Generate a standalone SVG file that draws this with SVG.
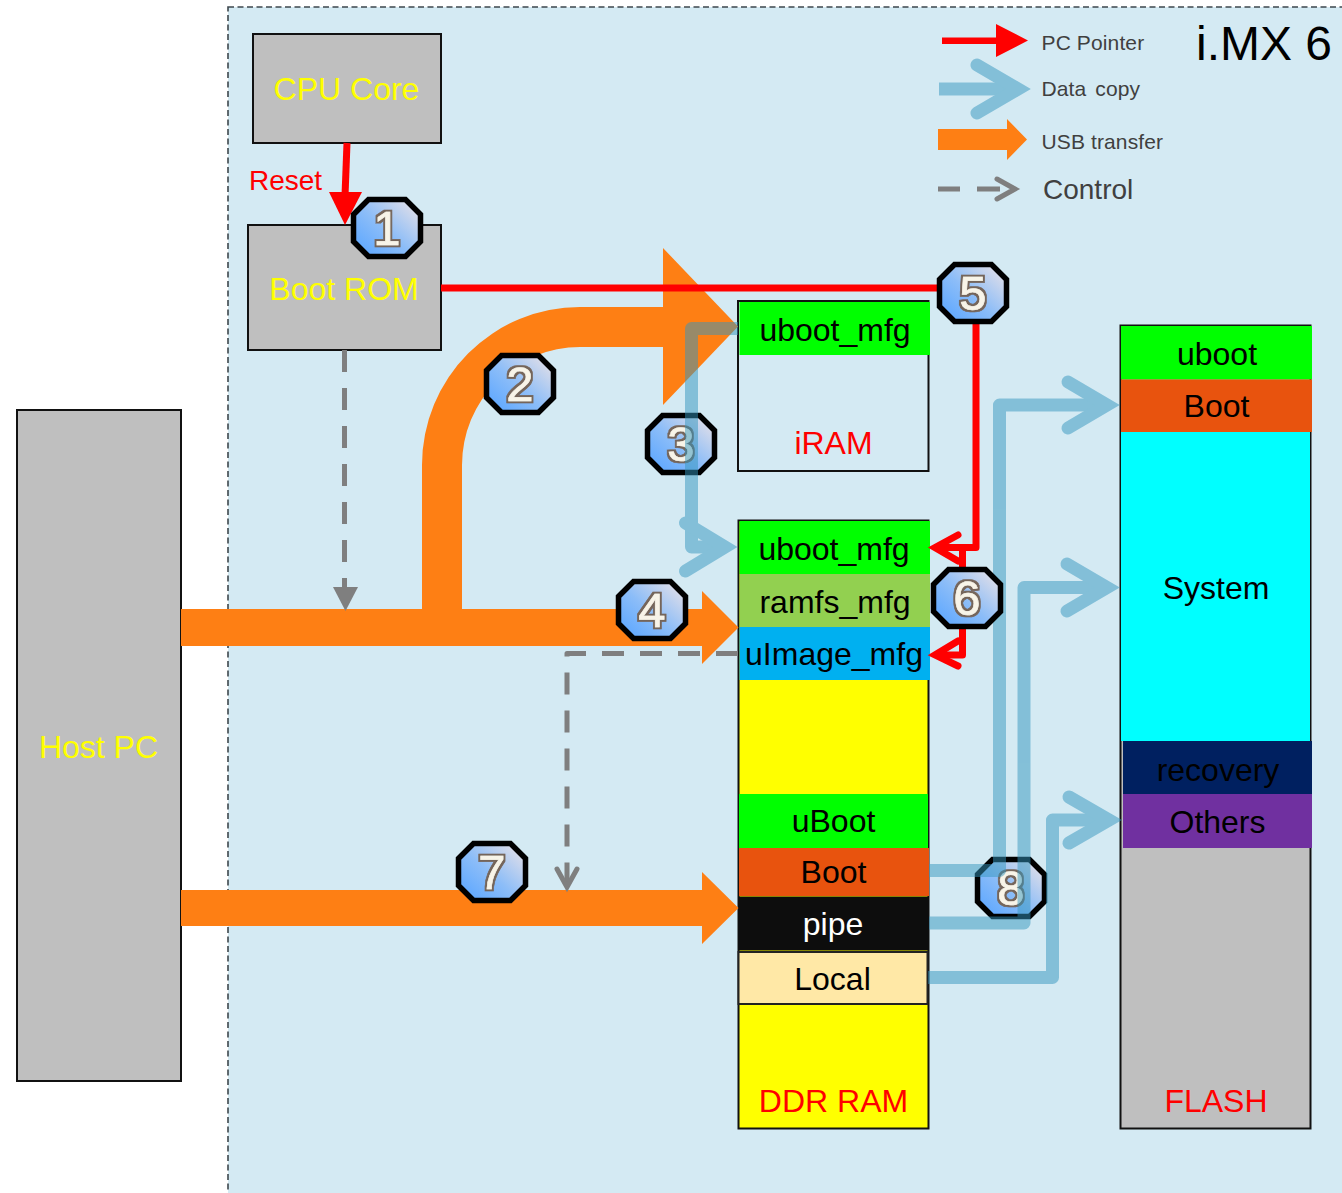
<svg xmlns="http://www.w3.org/2000/svg" width="1342" height="1193" viewBox="0 0 1342 1193">
<style>
text{font-family:"Liberation Sans",Arial,sans-serif;text-anchor:middle}
.box{fill:#bfbfbf;stroke:#111;stroke-width:2}
.t{font-size:32px;fill:#000}
.y{fill:#ff0}.r{fill:#f00}.w{fill:#fff}
.leg{font-size:21px;fill:#404040;text-anchor:start;letter-spacing:.12px}
.ctl{font-size:28px;letter-spacing:0}
.orange{fill:#fe7f14}
.blue{opacity:.5}
.blue path{fill:none;stroke:#3496be;stroke-width:13}
.blue .s{stroke-linejoin:round}
.blue .h{stroke-linecap:round;stroke-linejoin:miter;stroke-miterlimit:10}
.red{fill:none;stroke:#f00;stroke-width:7}
.redf{fill:#f00}
.grey{fill:none;stroke:#7f7f7f;stroke-width:5}
.dash{stroke-dasharray:22 16}
.oct{fill:url(#bg);stroke:#000;stroke-width:5.5;stroke-linejoin:miter}
.n{font-size:49px;fill:#f8f4e8;stroke:#f8f4e8;stroke-width:.6;filter:url(#dg)}
</style>
<defs>
<linearGradient id="bg" x1="0.1" y1="0.9" x2="0.95" y2="0.1">
<stop offset="0" stop-color="#5fa8ff"/><stop offset="0.45" stop-color="#8cbdf8"/><stop offset="1" stop-color="#e2dfe8"/>
</linearGradient>
<filter id="dg" x="-30%" y="-30%" width="160%" height="160%">
<feMorphology in="SourceAlpha" operator="dilate" radius="1.5" result="out"/>
<feFlood flood-color="#75655a"/>
<feComposite in2="out" operator="in" result="edge"/>
<feMerge><feMergeNode in="edge"/><feMergeNode in="SourceGraphic"/></feMerge>
</filter>
<polygon id="o" points="-18.5,-28.5 18.5,-28.5 33.5,-13.5 33.5,13.5 18.5,28.5 -18.5,28.5 -33.5,13.5 -33.5,-13.5"/>
</defs>

<g id="imx6-region">
<rect x="228" y="7" width="1116" height="1190" fill="#d4eaf3" stroke="#3d474d" stroke-width="1.6" stroke-dasharray="6 3.5"/>
<text x="1264" y="60" font-size="48" fill="#000">i.MX 6</text>
</g>

<g id="cpu-core"><rect class="box" x="253" y="34" width="188" height="109"/><text class="t y" x="346.500" y="100">CPU Core</text></g>
<g id="boot-rom"><rect class="box" x="248" y="225" width="193" height="125"/><text class="t y" x="344" y="300">Boot ROM</text></g>
<g id="host-pc"><rect class="box" x="17" y="410" width="164" height="671"/><text class="t y" x="98.500" y="758">Host PC</text></g>
<text class="r" x="285.500" y="190" font-size="28">Reset</text>

<g id="iram">
<rect x="738" y="301" width="190.500" height="170" fill="none" stroke="#111" stroke-width="2"/>
<rect x="739.500" y="302" width="190.500" height="53" fill="#0f0"/>
<text class="t" x="835" y="341">uboot_mfg</text>
<text class="t r" x="833.500" y="454">iRAM</text>
</g>

<g id="ddr-ram">
<rect x="738.500" y="520.500" width="190" height="608" fill="#ff0" stroke="#111" stroke-width="2"/>
<rect x="739.500" y="521" width="190.500" height="53" fill="#0f0"/>
<rect x="739.500" y="574" width="190.500" height="53" fill="#92d050"/>
<rect x="739.500" y="627" width="190.500" height="53" fill="#00b0f0"/>
<rect x="739" y="794" width="189" height="54" fill="#0f0"/>
<rect x="739" y="848" width="190" height="48" fill="#e8530e"/>
<rect x="738.500" y="896.500" width="190" height="54" fill="#0d0d0d"/>
<rect x="738.500" y="952" width="189" height="52" fill="#ffe8a6" stroke="#222" stroke-width="2"/>
<text class="t" x="834" y="560">uboot_mfg</text>
<text class="t" x="835" y="613">ramfs_mfg</text>
<text class="t" x="834" y="665">uImage_mfg</text>
<text class="t" x="833.500" y="832">uBoot</text>
<text class="t" x="833.500" y="883">Boot</text>
<text class="t w" x="833" y="935">pipe</text>
<text class="t" x="832.500" y="990">Local</text>
<text class="t r" x="833.500" y="1112">DDR RAM</text>
</g>

<g id="flash">
<rect x="1120.500" y="325.500" width="190" height="803" fill="#bfbfbf" stroke="#111" stroke-width="2"/>
<rect x="1121" y="326" width="191" height="53.500" fill="#0f0"/>
<rect x="1121" y="379.500" width="191" height="52.500" fill="#e8530e"/>
<rect x="1121" y="432" width="189" height="309" fill="#0ff"/>
<rect x="1123" y="741" width="189" height="53" fill="#002060"/>
<rect x="1123" y="794" width="189" height="54" fill="#7030a0"/>
<text class="t" x="1217" y="365">uboot</text>
<text class="t" x="1216.500" y="417">Boot</text>
<text class="t" x="1216" y="599">System</text>
<text class="t" x="1218" y="781">recovery</text>
<text class="t" x="1217.500" y="833">Others</text>
<text class="t r" x="1216" y="1112">FLASH</text>
</g>

<g id="legend">
<path d="M942 37.500H996V24L1028 40.500L996 57V44H942Z" class="redf"/>
<g class="blue"><path class="s" d="M939 89H1015"/><path class="h" d="M977 65L1018 89L977 113"/></g>
<path class="orange" d="M938 129H1007V119L1027 139.500L1007 160V150H938Z"/>
<g><path class="grey" d="M938 189H960M977 189H1000"/><path class="grey" stroke-linecap="round" d="M997 179L1015 189L997 199"/></g>
<text class="leg" x="1041.500" y="50">PC Pointer</text>
<text class="leg" x="1041.500" y="96" word-spacing="3">Data copy</text>
<text class="leg" x="1041.500" y="149">USB transfer</text>
<text class="leg ctl" x="1043" y="199">Control</text>
</g>

<g id="badge-3"><use href="#o" class="oct" x="681" y="444"/><text class="n" x="681" y="461">3</text></g>
<g id="badge-8"><use href="#o" class="oct" x="1011" y="888"/><text class="n" x="1011" y="905">8</text></g>

<g id="connectors">
<path class="orange" d="M181 609H702V591L738.500 627.500L702 664V646H181Z"/>
<path class="orange" d="M181 890H702V872L738.500 908L702 944V926H181Z"/>
<path class="orange" d="M422 612V465A158 158 0 0 1 580 307H663V248L738 326.500L663 405V347H580A118 118 0 0 0 462 465V612Z"/>
<path class="red" stroke-width="6.500" d="M347 143L345 196"/>
<path class="redf" d="M329 192H362L345 225Z"/>
<path class="red" d="M441 288H945"/>
<path class="red" stroke-linejoin="round" d="M976 315V547.500H937"/>
<path class="red" stroke-linecap="round" d="M958 535L935 547.500L958 561"/>
<path class="red" stroke-linejoin="round" d="M962.500 550V655H937"/>
<path class="red" stroke-linecap="round" d="M958 641L935 655L958 666"/>
<g class="blue"><path class="s" d="M738 328.500H691.500V547H725"/><path class="h" d="M685.500 523L725 547L685.500 571"/></g>
<g class="blue"><path class="s" d="M929 870.500H999.500V405H1105"/><path class="h" d="M1068 382L1107 405L1068 428"/></g>
<g class="blue"><path class="s" d="M929 923H1024V587.500H1105"/><path class="h" d="M1067 564L1107 587.500L1067 611"/></g>
<g class="blue"><path class="s" d="M928 977.500H1052.500V820H1105"/><path class="h" d="M1069 797L1109 820L1069 843"/></g>
<path class="grey dash" d="M344.500 350V587"/>
<path d="M333 587H358L345.500 611Z" fill="#7f7f7f"/>
<path class="grey dash" stroke-linejoin="round" d="M738 653.500H567V885"/>
<path class="grey" stroke-linecap="round" d="M557 869L567 887L577 869"/>
</g>

<g id="badge-1"><use href="#o" class="oct" x="387" y="228"/><text class="n" x="387" y="245">1</text></g>
<g id="badge-2"><use href="#o" class="oct" x="520" y="384"/><text class="n" x="520" y="401">2</text></g>
<g id="badge-4"><use href="#o" class="oct" x="652" y="610"/><text class="n" x="652" y="627">4</text></g>
<g id="badge-5"><use href="#o" class="oct" x="973" y="293"/><text class="n" x="973" y="310">5</text></g>
<g id="badge-6"><use href="#o" class="oct" x="967" y="598"/><text class="n" x="967" y="615">6</text></g>
<g id="badge-7"><use href="#o" class="oct" x="492" y="872"/><text class="n" x="492" y="889">7</text></g>
</svg>
